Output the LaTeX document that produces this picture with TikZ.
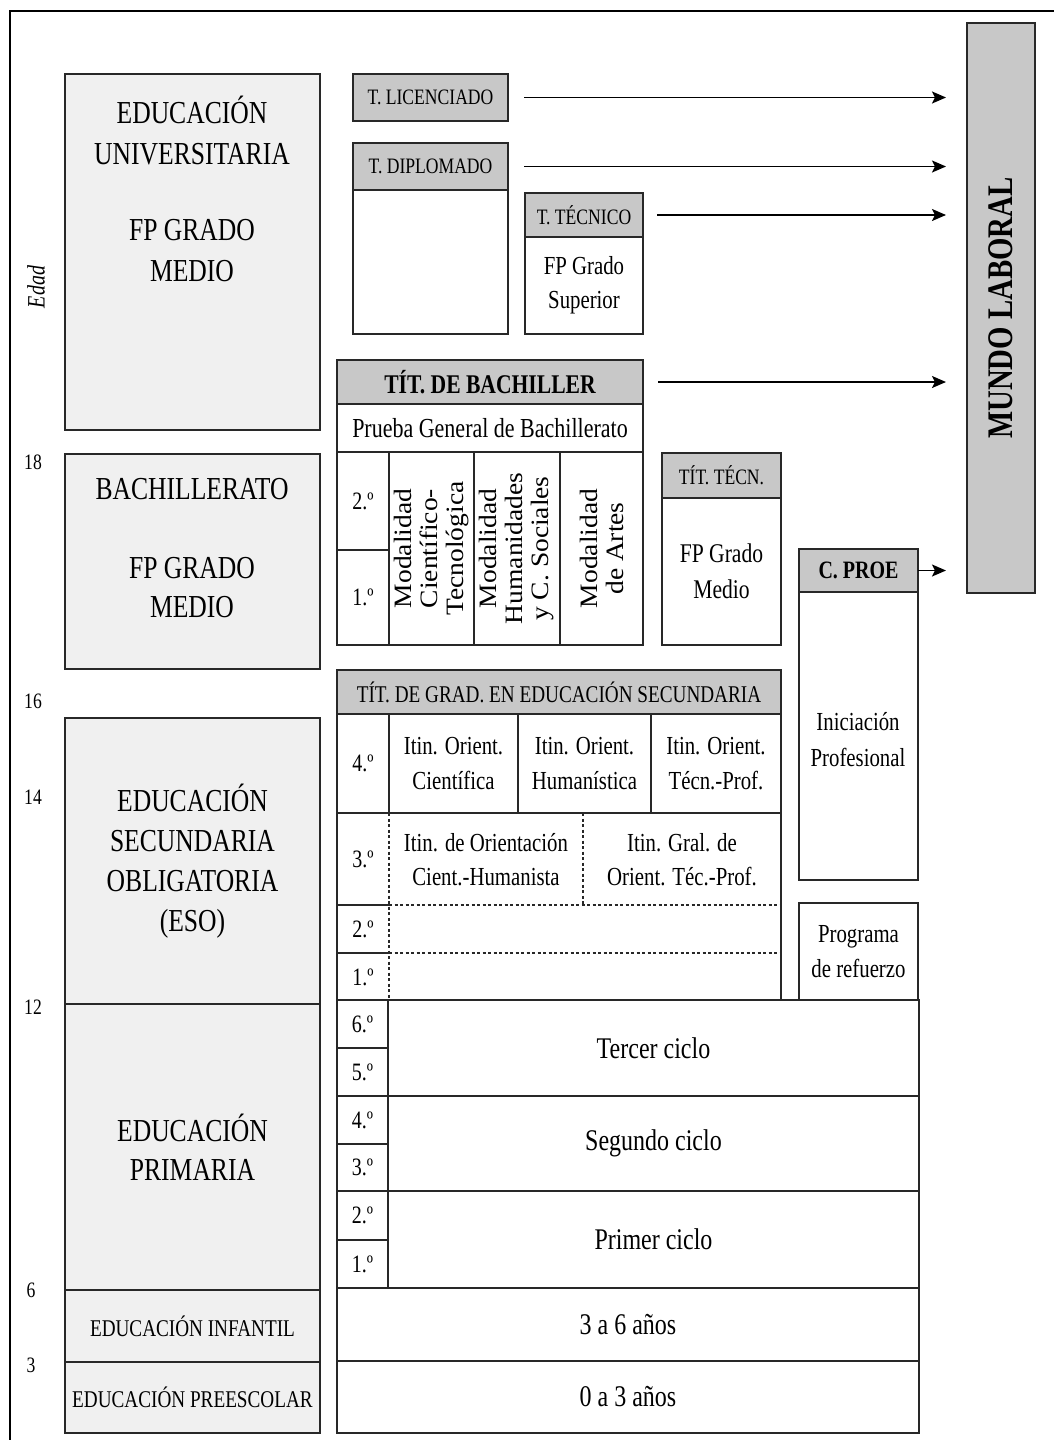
\documentclass[tikz,border=0pt]{standalone}
\usepackage{fontspec}
\setmainfont{Liberation Serif}[FakeStretch=0.8]
\newfontfamily\widefont{Liberation Serif}[FakeStretch=1.1]
\usetikzlibrary{arrows.meta}

\newcommand\fsz[2]{\fontsize{#1}{#2}\selectfont}
% \rect{style}{name}{x1}{y1}{x2}{y2}{text}
\newcommand\rect[7]{\node[#1, minimum width={(#5-#3)*1pt}, minimum height={(#6-#4)*1pt}] (#2) at (#3,#4) {#7};}

\definecolor{lightfill}{RGB}{240,240,240}
\definecolor{hdrfill}{RGB}{200,200,200}
\definecolor{edge}{RGB}{40,40,40}

\tikzset{
  cell/.style={draw=edge, line width=1.6pt, inner sep=0pt, outer sep=0pt, anchor=north west, align=center},
  lbox/.style={cell, fill=lightfill},
  hbox/.style={cell, fill=hdrfill},
  wbox/.style={cell, fill=white},
  txt/.style={inner sep=0pt, outer sep=0pt, align=center},
  big/.style={txt, font=\fsz{32}{41}},
  age/.style={txt, font=\fsz{22}{24}},
  num/.style={font=\fsz{25}{26}},
  flow/.style={line width=1.8pt, draw=black, -{Stealth[length=14pt,width=12pt,inset=3pt]}},
  grid/.style={draw=edge, line width=1.6pt},
  dgrid/.style={draw=edge, line width=1.4pt, dash pattern=on 3pt off 2.5pt},
}

\begin{document}
\begin{tikzpicture}[x=1pt, y=-1pt]
\useasboundingbox (0,0) rectangle (1054,1440);

% page frame (top and left edges)
\coordinate (fa) at (10,1440);
\coordinate (fb) at (10,11);
\coordinate (fc) at (1054,11);
\draw[line width=1.5pt, draw=black] (fa) -- (fb) -- (fc);

% ---------- age scale ----------
\node[txt, rotate=90, font=\itshape\fsz{25}{26}] (edad) at (36,287) {Edad};
\node[age] (a18) at (33,462) {18};
\node[age] (a16) at (33,701) {16};
\node[age] (a14) at (33,797) {14};
\node[age] (a12) at (33,1007) {12};
\node[age] (a6)  at (31,1290) {6};
\node[age] (a3)  at (31,1365) {3};

% ---------- left column: stages ----------
\rect{lbox}{univ}{65}{74}{320}{430}{}
\node[big] (univA) at (192,131) {EDUCACIÓN\\UNIVERSITARIA};
\node[big] (univB) at (192,251) {FP GRADO\\MEDIO};

\rect{lbox}{bach}{65}{454}{320}{669}{}
\node[big] (bachA) at (192,489) {BACHILLERATO};
\node[big, font=\fsz{32}{39}] (bachB) at (192,588) {FP GRADO\\MEDIO};

\rect{lbox, font=\fsz{32}{40}}{eso}{65}{718}{320}{1004}{EDUCACIÓN\\SECUNDARIA\\OBLIGATORIA\\(ESO)}
\rect{lbox, font=\fsz{32}{39}}{prim}{65}{1004}{320}{1290}{EDUCACIÓN\\PRIMARIA}
\rect{lbox, font=\fsz{24}{26}}{infa}{65}{1290}{320}{1362}{EDUCACIÓN INFANTIL}
\rect{lbox, font=\fsz{24}{26}}{pree}{65}{1362}{320}{1433}{EDUCACIÓN PREESCOLAR}

% ---------- university titles ----------
\rect{hbox, font=\fsz{22}{24}}{lic}{353}{74}{508}{121}{T. LICENCIADO}
\rect{hbox, font=\fsz{22}{24}}{dip}{353}{143}{508}{190}{T. DIPLOMADO}
\rect{wbox}{dipb}{353}{190}{508}{334}{}
\rect{hbox, font=\fsz{22}{24}}{tec}{525}{193}{643}{237}{T. TÉCNICO}
\rect{wbox, font=\fsz{26}{34}}{tecb}{525}{237}{643}{334}{FP Grado\\Superior}

% ---------- bachillerato ----------
\rect{hbox, font=\bfseries\fsz{27}{28}}{tbach}{337}{360}{643}{404}{TÍT. DE BACHILLER}
\rect{wbox, font=\fsz{27.5}{28}}{prueba}{337}{404}{643}{452}{Prueba General de Bachillerato}
\rect{wbox, num}{bn2}{337}{452}{389}{550}{2.º}
\rect{wbox, num}{bn1}{337}{550}{389}{645}{1.º}
\rect{wbox}{mod1}{389}{452}{474}{645}{}
\rect{wbox}{mod2}{474}{452}{560}{645}{}
\rect{wbox}{mod3}{560}{452}{643}{645}{}
\node[txt, rotate=90, font=\widefont\fsz{25}{26}] (mod1t) at (mod1.center) {Modalidad\\Científico-\\Tecnológica};
\node[txt, rotate=90, font=\widefont\fsz{25}{26}] (mod2t) at (mod2.center) {Modalidad\\Humanidades\\y C. Sociales};
\node[txt, rotate=90, font=\widefont\fsz{25}{26}] (mod3t) at (mod3.center) {Modalidad\\de Artes};

% ---------- FP grado medio ----------
\rect{hbox, font=\fsz{22}{24}}{ttec}{662}{453}{781}{498}{TÍT. TÉCN.}
\rect{wbox, font=\fsz{27}{36}}{ttecb}{662}{498}{781}{645}{FP Grado\\Medio}

% ---------- professional initiation ----------
\rect{hbox, font=\bfseries\fsz{25}{27}}{cproe}{799}{549}{918}{592}{C. PROE}
\rect{wbox}{inic}{799}{592}{918}{880}{}
\node[txt, font=\fsz{26}{36}] (inict) at (858,740) {Iniciación\\Profesional};
\rect{wbox, font=\fsz{26}{35}}{prog}{799}{903}{918}{1000}{Programa\\de refuerzo}

% ---------- ESO ----------
\rect{hbox, font=\fsz{24}{26}}{tgrad}{337}{670}{781}{714}{TÍT. DE GRAD. EN EDUCACIÓN SECUNDARIA}
\rect{wbox}{esob}{337}{714}{781}{1000}{}
\rect{wbox, num}{en4}{337}{714}{389}{813}{4.º}
\rect{wbox, font=\fsz{26}{35}}{c41}{389}{714}{518}{813}{Itin. Orient.\\Científica}
\rect{wbox, font=\fsz{26}{35}}{c42}{518}{714}{651}{813}{Itin. Orient.\\Humanística}
\rect{wbox, font=\fsz{26}{35}}{c43}{651}{714}{781}{813}{Itin. Orient.\\Técn.-Prof.}
\node[txt, num] (en3) at (363,859) {3.º};
\node[txt, num] (en2) at (363,929) {2.º};
\node[txt, num] (en1) at (363,977) {1.º};
\node[txt, font=\fsz{26}{34}] (c31) at (486,860) {Itin. de Orientación\\Cient.-Humanista};
\node[txt, font=\fsz{26}{34}] (c32) at (682,860) {Itin. Gral. de\\Orient. Téc.-Prof.};
% inner rules of the lower ESO rows
\coordinate (g1) at (337,905);  \coordinate (g2) at (389,905);  \coordinate (g3) at (781,905);
\coordinate (g4) at (337,953);  \coordinate (g5) at (389,953);  \coordinate (g6) at (781,953);
\coordinate (g7) at (389,813);  \coordinate (g8) at (389,1000);
\coordinate (g9) at (583,813);  \coordinate (g10) at (583,905);
\draw[grid] (g1) -- (g2) (g4) -- (g5);
\draw[dgrid] (g2) -- (g3) (g5) -- (g6) (g7) -- (g8) (g9) -- (g10);

% ---------- primary ----------
\rect{wbox, num}{pn6}{337}{1000}{388}{1048}{6.º}
\rect{wbox, num}{pn5}{337}{1048}{388}{1096}{5.º}
\rect{wbox, num}{pn4}{337}{1096}{388}{1144}{4.º}
\rect{wbox, num}{pn3}{337}{1144}{388}{1191}{3.º}
\rect{wbox, num}{pn2}{337}{1191}{388}{1240}{2.º}
\rect{wbox, num}{pn1}{337}{1240}{388}{1288}{1.º}
\rect{wbox, font=\fsz{30}{30}}{ciclo3}{388}{1000}{919}{1096}{Tercer ciclo}
\rect{wbox, font=\fsz{30}{30}}{ciclo2}{388}{1096}{919}{1191}{Segundo ciclo}
\rect{wbox, font=\fsz{30}{30}}{ciclo1}{388}{1191}{919}{1288}{Primer ciclo}
\rect{wbox, font=\fsz{30}{30}}{inf36}{337}{1288}{919}{1361}{3 a 6 años}
\rect{wbox, font=\fsz{30}{30}}{inf03}{337}{1361}{919}{1433}{0 a 3 años}

% ---------- labour market ----------
\rect{hbox}{mundo}{967}{23}{1035}{593}{}
\node[txt, rotate=90, font=\bfseries\fsz{36}{38}] (mundot) at (mundo.center) {MUNDO LABORAL};

% ---------- exits to the labour market ----------
\draw[flow, shorten <=16pt, shorten >=21pt] (lic.east) -- (lic.east -| mundo.west);
\draw[flow, shorten <=16pt, shorten >=21pt] (dip.east) -- (dip.east -| mundo.west);
\draw[flow, shorten <=14pt, shorten >=21pt] (tec.east) -- (tec.east -| mundo.west);
\draw[flow, shorten <=15pt, shorten >=21pt] (tbach.east) -- (tbach.east -| mundo.west);
\draw[flow, shorten >=21pt] (cproe.east) -- (cproe.east -| mundo.west);

\end{tikzpicture}
\end{document}
